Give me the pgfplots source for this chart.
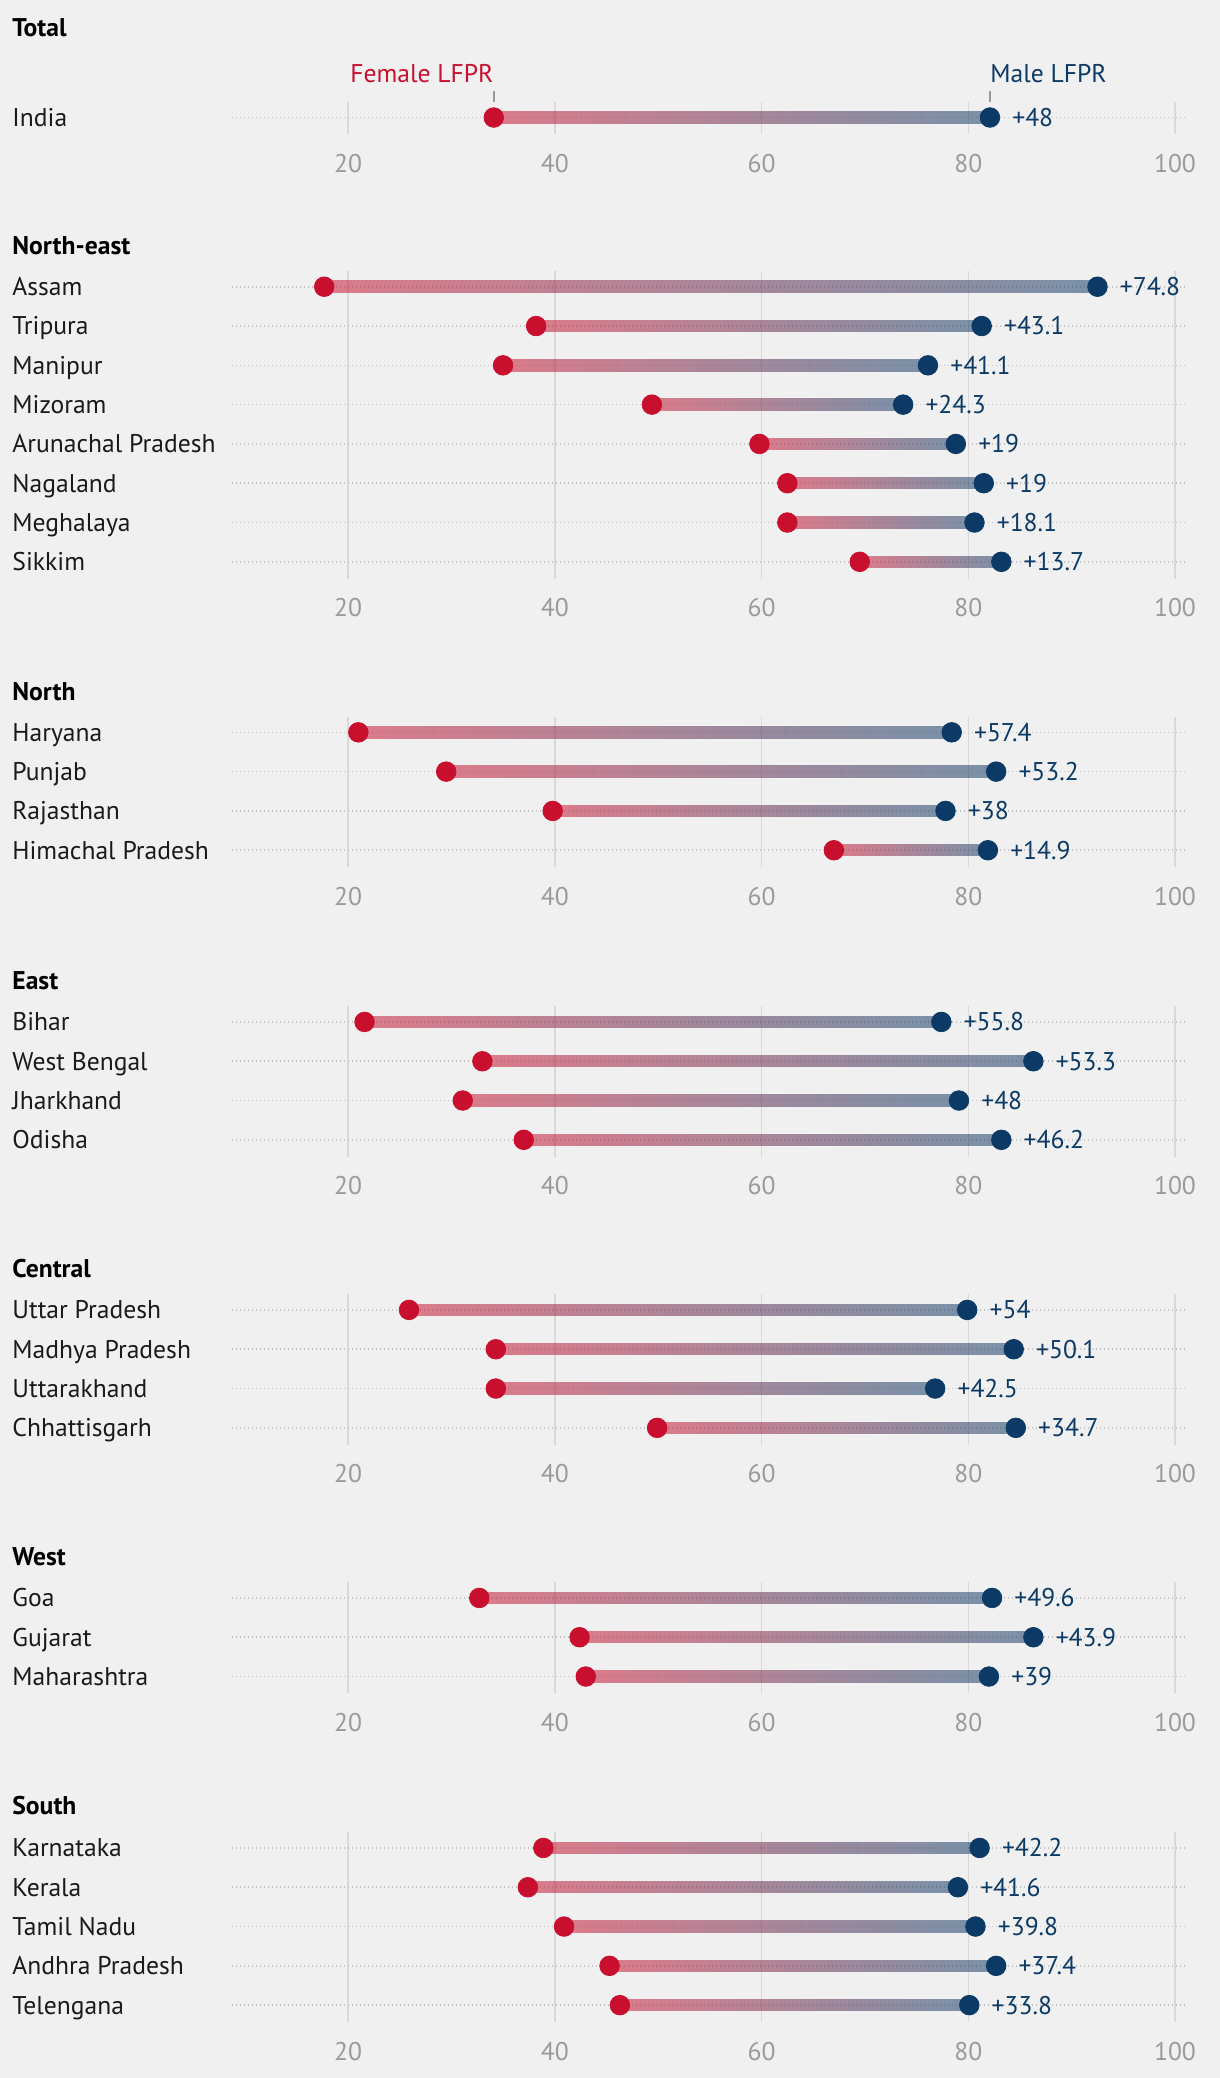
\documentclass[border=0pt]{standalone}
\usepackage{pgfplots}
\pgfplotsset{compat=1.18}
\usepackage{pgfplotstable}
\usepackage{fontspec}
\setmainfont{PT Sans}

\definecolor{bg}{HTML}{F0F0F0}
\definecolor{femc}{HTML}{C8102E}
\definecolor{malec}{HTML}{0C3A66}
\definecolor{tickc}{HTML}{9A9A9A}
\definecolor{gridc}{HTML}{D9D9D9}
\definecolor{dotc}{HTML}{C4C4C4}
\definecolor{txtc}{HTML}{1A1A1A}

\newcommand\lbl{\fontsize{12.8pt}{15pt}\selectfont}
\newcommand\ttl{\fontsize{12.8pt}{15pt}\selectfont\bfseries}

% name, female LFPR, gap to male LFPR
\pgfplotstableread[col sep=comma]{
name,f,d
India,34.1,48
}\tTot

\pgfplotstableread[col sep=comma]{
name,f,d
Assam,17.7,74.8
Tripura,38.2,43.1
Manipur,35.0,41.1
Mizoram,49.4,24.3
Arunachal Pradesh,59.8,19
Nagaland,62.5,19
Meghalaya,62.5,18.1
Sikkim,69.5,13.7
}\tNE

\pgfplotstableread[col sep=comma]{
name,f,d
Haryana,21.0,57.4
Punjab,29.5,53.2
Rajasthan,39.8,38
Himachal Pradesh,67.0,14.9
}\tN

\pgfplotstableread[col sep=comma]{
name,f,d
Bihar,21.6,55.8
West Bengal,33.0,53.3
Jharkhand,31.1,48
Odisha,37.0,46.2
}\tE

\pgfplotstableread[col sep=comma]{
name,f,d
Uttar Pradesh,25.9,54
Madhya Pradesh,34.3,50.1
Uttarakhand,34.3,42.5
Chhattisgarh,49.9,34.7
}\tC

\pgfplotstableread[col sep=comma]{
name,f,d
Goa,32.7,49.6
Gujarat,42.4,43.9
Maharashtra,43.0,39
}\tW

\pgfplotstableread[col sep=comma]{
name,f,d
Karnataka,38.9,42.2
Kerala,37.4,41.6
Tamil Nadu,40.9,39.8
Andhra Pradesh,45.3,37.4
Telengana,46.3,33.8
}\tS

\pgfplotsset{
  panel/.style={
    x=5.16875pt, y=19.65pt,
    xmin=8.75, xmax=101, ymax=0.4,
    anchor=north west, clip=false,
    axis line style={draw=none},
    major tick length=0pt,
    xtick={20,40,60,80,100},
    yticklabels={},
    xmajorgrids, ymajorgrids,
    x grid style={gridc, line width=0.75pt},
    y grid style={dotc, line width=0.8pt, dash pattern=on 0.8pt off 1.2pt},
    /pgf/number format/assume math mode=true,
    tick label style={font=\lbl, text=tickc},
    xticklabel style={anchor=center, yshift=-14.5pt},
  },
  barfill/.style={draw=none, mark=none, left color=femc, right color=malec, fill opacity=0.52},
  dotf/.style={only marks, mark=*, mark size=4.9pt, color=femc},
  dotm/.style={only marks, mark=*, mark size=4.9pt, color=malec},
  lab/.style={draw=none, mark=none, point meta=explicit symbolic,
    nodes near coords style={font=\lbl, inner sep=0pt, text height=8.96pt, text depth=0pt}},
}

% #1 table, #2 last row index
\newcommand\rows[2]{%
  \pgfplotsinvokeforeach{0,...,#2}{%
    \pgfplotstablegetelem{##1}{f}\of#1\let\vf\pgfplotsretval
    \pgfplotstablegetelem{##1}{d}\of#1\let\vd\pgfplotsretval
    \pgfmathsetmacro\vm{\vf+\vd}%
    \pgfmathsetmacro\ylo{-##1-0.146}%
    \pgfmathsetmacro\yhi{-##1+0.146}%
    \edef\tmp{\noexpand\addplot[barfill] coordinates {(\vf,\ylo) (\vm,\ylo) (\vm,\yhi) (\vf,\yhi)};}\tmp
  }
  \addplot[dotf] table[x=f, y expr=-\coordindex]{#1};
  \addplot[dotm] table[x expr=\thisrow{f}+\thisrow{d}, y expr=-\coordindex]{#1};
  \addplot[lab, nodes near coords={\pgfplotspointmeta},
    nodes near coords style={anchor=west, text=txtc}]
    table[x expr=-12.5, y expr=-\coordindex, meta=name]{#1};
  \addplot[lab, nodes near coords={+\pgfplotspointmeta},
    nodes near coords style={anchor=west, xshift=11pt, text=malec}]
    table[x expr=\thisrow{f}+\thisrow{d}, y expr=-\coordindex, meta=d]{#1};
}

\newcommand\head[2]{\node[anchor=west, font=\ttl, text=black, inner sep=0pt, text height=8.96pt, text depth=0pt] at (axis cs:-12.5,#1) {#2};}

\begin{document}
\begin{tikzpicture}
\path[use as bounding box, fill=bg] (0,0) rectangle (610pt,-1039pt);

\begin{axis}[panel, at={(115.85pt,-50.9pt)}, ymin=-0.43, ytick={0}]
  \rows{\tTot}{0}
  \addplot[only marks, mark=|, mark size=2.93pt, color=tickc, mark options={line width=0.75pt}]
    table[x=f, y expr=0.538]{\tTot};
  \addplot[only marks, mark=|, mark size=2.93pt, color=tickc, mark options={line width=0.75pt}]
    table[x expr=\thisrow{f}+\thisrow{d}, y expr=0.538]{\tTot};
  \addplot[lab, point meta=y, nodes near coords={Female LFPR},
    nodes near coords style={anchor=east, text=femc}]
    table[x=f, y expr=1.12]{\tTot};
  \addplot[lab, point meta=y, nodes near coords={Male LFPR},
    nodes near coords style={anchor=west, text=malec}]
    table[x expr=\thisrow{f}+\thisrow{d}, y expr=1.12]{\tTot};
  \head{2.30}{Total}
\end{axis}

\begin{axis}[panel, at={(115.85pt,-135.5pt)}, ymin=-7.43, ytick={-7,...,0}]
  \rows{\tNE}{7}
  \head{1.05}{North-east}
\end{axis}

\begin{axis}[panel, at={(115.85pt,-358.3pt)}, ymin=-3.43, ytick={-3,...,0}]
  \rows{\tN}{3}
  \head{1.05}{North}
\end{axis}

\begin{axis}[panel, at={(115.85pt,-503.1pt)}, ymin=-3.43, ytick={-3,...,0}]
  \rows{\tE}{3}
  \head{1.05}{East}
\end{axis}

\begin{axis}[panel, at={(115.85pt,-647.1pt)}, ymin=-3.43, ytick={-3,...,0}]
  \rows{\tC}{3}
  \head{1.05}{Central}
\end{axis}

\begin{axis}[panel, at={(115.85pt,-791.1pt)}, ymin=-2.43, ytick={-2,...,0}]
  \rows{\tW}{2}
  \head{1.05}{West}
\end{axis}

\begin{axis}[panel, at={(115.85pt,-916.1pt)}, ymin=-4.43, ytick={-4,...,0}]
  \rows{\tS}{4}
  \head{1.07}{South}
\end{axis}
\end{tikzpicture}
\end{document}
